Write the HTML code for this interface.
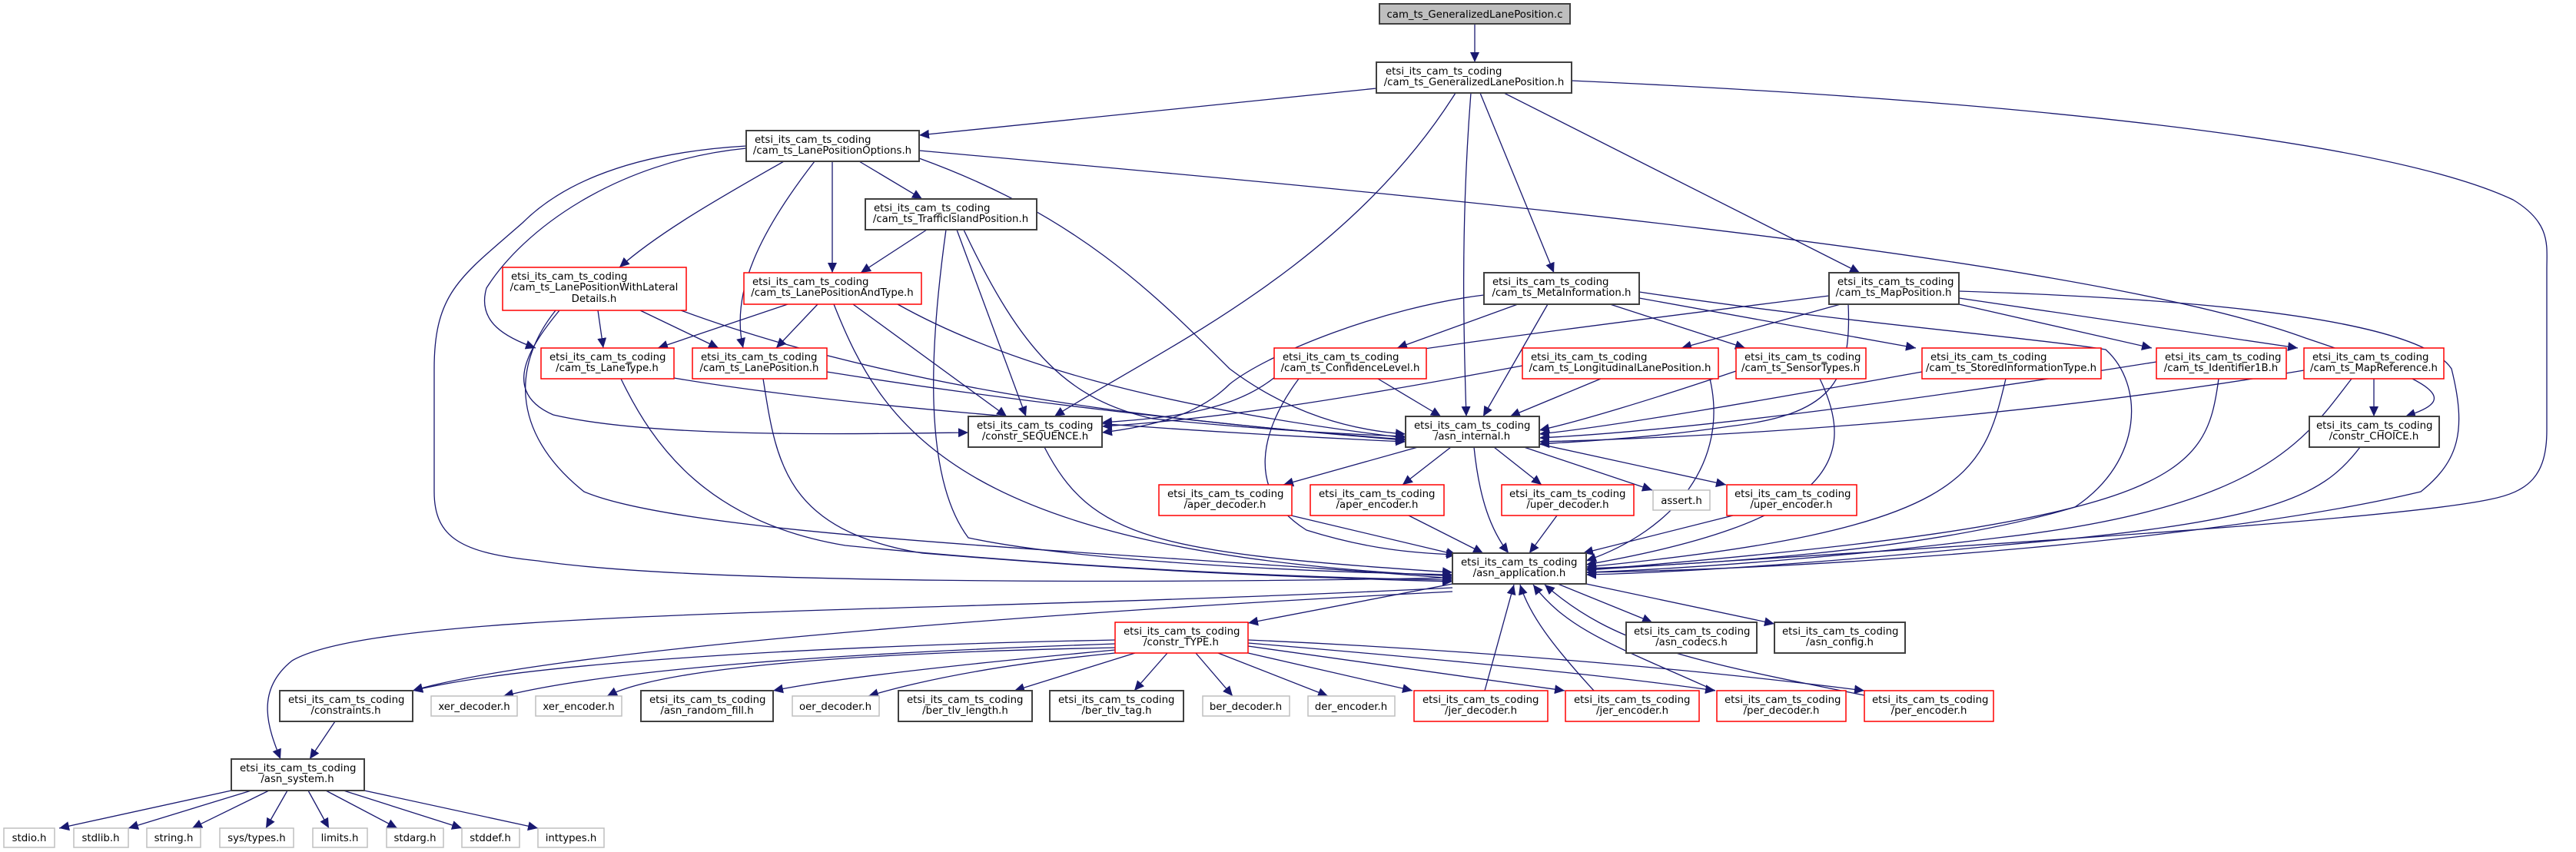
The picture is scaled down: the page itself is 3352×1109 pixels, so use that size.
<!DOCTYPE html>
<html><head><meta charset="utf-8"><style>
html,body{margin:0;padding:0;background:#fff;}
svg{display:block}
text{font-family:"DejaVu Sans","Liberation Sans",sans-serif;font-size:13.3px;fill:#000}
.e{fill:none;stroke:#191970;stroke-width:1.3}
.nb{fill:#fff;stroke:#404040;stroke-width:2}
.nr{fill:#fff;stroke:#ff0000;stroke-width:1.5}
.ng{fill:#fff;stroke:#bfbfbf;stroke-width:1.5}
</style></head><body>
<svg width="3352" height="1109" viewBox="0 0 3352 1109" xmlns="http://www.w3.org/2000/svg">
<defs><marker id="a" markerUnits="userSpaceOnUse" markerWidth="14" markerHeight="12" refX="13" refY="6" orient="auto"><path d="M0,0 L13,6 L0,12 z" fill="#191970"/></marker></defs>
<g class="e" marker-end="url(#a)">
<path d="M1919,31 L1919,81"/>
<path d="M1791,115 L1196,176"/>
<path d="M1894,121 C1750,350 1500,460 1372,542"/>
<path d="M1914,121 C1900,300 1905,450 1908,542"/>
<path d="M1926,121 L2022,355"/>
<path d="M1957,121 L2420,355"/>
<path d="M2045,105 C2600,130 3100,180 3270,260 C3320,290 3314,320 3314,350 L3314,560 C3314,620 3290,640 3240,650 C3100,680 2400,720 2064,742"/>
<path d="M1196,196 C1800,250 2700,330 3000,440 C3180,500 3200,520 3130,542"/>
<path d="M1118,210 L1200,259"/>
<path d="M1083,210 L1083,355"/>
<path d="M1020,210 C950,250 860,300 806,348"/>
<path d="M971,193 C800,210 680,300 633,375 C620,420 660,440 697,453"/>
<path d="M1060,210 C990,300 950,380 967,453"/>
<path d="M971,190 C800,200 720,250 680,290 C600,360 565,380 565,480 L565,640 C565,700 600,720 700,730 C900,760 1500,760 1890,752"/>
<path d="M1196,206 C1400,280 1500,380 1600,480 C1680,540 1760,560 1829,565"/>
<path d="M1206,299 L1120,355"/>
<path d="M1245,299 L1335,542"/>
<path d="M1254,299 C1330,460 1390,520 1500,545 C1650,560 1750,565 1829,568"/>
<path d="M1231,299 C1210,450 1200,620 1260,700 C1400,730 1700,745 1890,748"/>
<path d="M1025,396 L856,453"/>
<path d="M1064,396 L1010,453"/>
<path d="M1110,396 L1310,542"/>
<path d="M1168,396 C1300,470 1500,530 1829,570"/>
<path d="M1085,396 C1150,560 1250,720 1890,750"/>
<path d="M778,404 L785,453"/>
<path d="M833,404 L935,453"/>
<path d="M886,404 C1200,520 1600,555 1829,572"/>
<path d="M728,404 C690,450 650,510 720,540 C850,570 1100,565 1260,563"/>
<path d="M723,404 C670,470 660,560 760,640 C900,700 1500,720 1890,753"/>
<path d="M877,492 C1100,530 1500,560 1829,575"/>
<path d="M808,493 C850,580 920,680 1100,710 C1400,740 1700,752 1890,755"/>
<path d="M1076,484 C1300,520 1600,555 1829,573"/>
<path d="M993,493 C1010,600 1020,690 1200,720 C1500,745 1700,752 1890,757"/>
<path d="M1359,582 C1420,700 1500,720 1890,745"/>
<path d="M1931,384 C1800,400 1650,460 1600,500 C1560,540 1500,555 1434,563"/>
<path d="M1975,396 L1818,453"/>
<path d="M2014,396 L1930,542"/>
<path d="M2095,396 L2271,453"/>
<path d="M2133,388 L2493,453"/>
<path d="M2133,380 C2400,420 2650,440 2740,455 C2790,500 2790,600 2700,660 C2500,720 2200,735 2064,740"/>
<path d="M2380,385 C2100,420 1700,470 1660,490 C1600,540 1500,545 1434,550"/>
<path d="M2395,396 L2188,453"/>
<path d="M2405,396 C2410,500 2380,540 2250,555 C2150,570 2050,575 2003,578"/>
<path d="M2549,396 L2800,453"/>
<path d="M2549,388 L2990,453"/>
<path d="M2549,379 C2900,390 3150,420 3190,480 C3210,560 3200,600 3150,640 C2900,700 2400,740 2064,745"/>
<path d="M1793,493 L1875,542"/>
<path d="M1690,493 C1640,560 1620,640 1700,690 C1780,715 1840,720 1895,722"/>
<path d="M2083,493 L1965,542"/>
<path d="M1981,476 C1800,510 1600,545 1434,555"/>
<path d="M2225,493 C2250,600 2180,690 2064,730"/>
<path d="M2259,483 C2150,520 2050,550 2003,560"/>
<path d="M2368,493 C2420,600 2380,680 2064,735"/>
<path d="M2501,484 C2300,520 2100,555 2003,565"/>
<path d="M2610,493 C2580,620 2560,690 2064,738"/>
<path d="M2806,471 C2500,520 2200,560 2003,570"/>
<path d="M2887,493 C2870,620 2840,680 2064,742"/>
<path d="M2998,482 C2600,550 2200,570 2003,575"/>
<path d="M3089,493 L3089,542"/>
<path d="M3060,493 C3000,570 2950,660 2600,700 C2400,725 2200,740 2064,745"/>
<path d="M3071,582 C3020,650 2950,680 2600,710 C2400,730 2200,745 2064,748"/>
<path d="M1845,582 L1670,631"/>
<path d="M1888,582 L1825,631"/>
<path d="M1944,582 L2006,631"/>
<path d="M1983,582 L2150,638"/>
<path d="M2003,578 L2246,631"/>
<path d="M1918,582 C1925,650 1940,690 1963,720"/>
<path d="M1680,671 L1895,722"/>
<path d="M1833,671 L1930,720"/>
<path d="M2026,671 L1990,720"/>
<path d="M2255,671 L2060,720"/>
<path d="M1890,760 L1624,811"/>
<path d="M2027,760 L2150,810"/>
<path d="M2064,760 L2309,812"/>
<path d="M1890,765 C1200,800 500,790 380,860 C330,900 350,950 365,988"/>
<path d="M1890,770 C1300,800 700,850 537,899"/>
<path d="M1451,833 C1100,840 700,860 537,899"/>
<path d="M1451,838 C1100,850 800,870 655,906"/>
<path d="M1451,843 C1100,850 860,870 790,906"/>
<path d="M1451,846 C1300,860 1100,880 1006,899"/>
<path d="M1451,850 C1300,865 1200,885 1130,906"/>
<path d="M1477,850 L1320,899"/>
<path d="M1519,850 L1476,899"/>
<path d="M1556,850 L1604,906"/>
<path d="M1585,850 L1728,906"/>
<path d="M1624,850 L1838,899"/>
<path d="M1624,841 L2036,899"/>
<path d="M1624,837 C1900,860 2100,880 2232,899"/>
<path d="M1624,833 C1900,845 2200,870 2426,899"/>
<path d="M1932,899 L1970,761"/>
<path d="M2074,899 C2020,840 1990,800 1978,761"/>
<path d="M2232,899 C2100,840 2040,820 1995,761"/>
<path d="M2426,905 C2200,860 2100,840 2010,761"/>
<path d="M436,939 L403,988"/>
<path d="M301,1029 L77,1078"/>
<path d="M327,1029 L167,1078"/>
<path d="M350,1029 L250,1078"/>
<path d="M374,1029 L346,1078"/>
<path d="M401,1029 L428,1078"/>
<path d="M424,1029 L517,1078"/>
<path d="M447,1029 L601,1078"/>
<path d="M474,1029 L700,1078"/>
</g>
<g>
<rect x="1795" y="5" width="248" height="26" fill="#bfbfbf" stroke="#404040" stroke-width="2"/><text x="1919" y="23" text-anchor="middle">cam_ts_GeneralizedLanePosition.c</text>
</g>
<g id="nodes">
<!-- two-line boxes: first line left at x+11, second centered -->
<rect class="nb" x="1791" y="81" width="254" height="40"/><text x="1803" y="97">etsi_its_cam_ts_coding</text><text x="1918" y="111" text-anchor="middle">/cam_ts_GeneralizedLanePosition.h</text>
<rect class="nb" x="971" y="170" width="225" height="40"/><text x="982" y="186">etsi_its_cam_ts_coding</text><text x="1083" y="200" text-anchor="middle">/cam_ts_LanePositionOptions.h</text>
<rect class="nb" x="1126" y="259" width="223" height="40"/><text x="1137" y="275">etsi_its_cam_ts_coding</text><text x="1237" y="289" text-anchor="middle">/cam_ts_TrafficIslandPosition.h</text>
<rect class="nr" x="968" y="355" width="231" height="41"/><text x="979" y="371">etsi_its_cam_ts_coding</text><text x="1083" y="385" text-anchor="middle">/cam_ts_LanePositionAndType.h</text>
<rect class="nr" x="654" y="348" width="239" height="56"/><text x="665" y="364">etsi_its_cam_ts_coding</text><text x="773" y="378" text-anchor="middle">/cam_ts_LanePositionWithLateral</text><text x="773" y="393" text-anchor="middle">Details.h</text>
<rect class="nr" x="704" y="453" width="173" height="40"/><text x="715" y="469">etsi_its_cam_ts_coding</text><text x="790" y="483" text-anchor="middle">/cam_ts_LaneType.h</text>
<rect class="nr" x="901" y="453" width="175" height="40"/><text x="912" y="469">etsi_its_cam_ts_coding</text><text x="988" y="483" text-anchor="middle">/cam_ts_LanePosition.h</text>
<rect class="nb" x="1931" y="355" width="202" height="41"/><text x="1942" y="371">etsi_its_cam_ts_coding</text><text x="2032" y="385" text-anchor="middle">/cam_ts_MetaInformation.h</text>
<rect class="nb" x="2380" y="355" width="169" height="41"/><text x="2391" y="371">etsi_its_cam_ts_coding</text><text x="2464" y="385" text-anchor="middle">/cam_ts_MapPosition.h</text>
<rect class="nr" x="1658" y="453" width="198" height="40"/><text x="1669" y="469">etsi_its_cam_ts_coding</text><text x="1757" y="483" text-anchor="middle">/cam_ts_ConfidenceLevel.h</text>
<rect class="nr" x="1981" y="453" width="255" height="40"/><text x="1992" y="469">etsi_its_cam_ts_coding</text><text x="2108" y="483" text-anchor="middle">/cam_ts_LongitudinalLanePosition.h</text>
<rect class="nr" x="2259" y="453" width="169" height="40"/><text x="2270" y="469">etsi_its_cam_ts_coding</text><text x="2343" y="483" text-anchor="middle">/cam_ts_SensorTypes.h</text>
<rect class="nr" x="2501" y="453" width="233" height="40"/><text x="2512" y="469">etsi_its_cam_ts_coding</text><text x="2617" y="483" text-anchor="middle">/cam_ts_StoredInformationType.h</text>
<rect class="nr" x="2806" y="453" width="169" height="40"/><text x="2817" y="469">etsi_its_cam_ts_coding</text><text x="2890" y="483" text-anchor="middle">/cam_ts_Identifier1B.h</text>
<rect class="nr" x="2998" y="453" width="182" height="40"/><text x="3009" y="469">etsi_its_cam_ts_coding</text><text x="3089" y="483" text-anchor="middle">/cam_ts_MapReference.h</text>
<rect class="nb" x="1260" y="542" width="174" height="40"/><text x="1271" y="558">etsi_its_cam_ts_coding</text><text x="1347" y="572" text-anchor="middle">/constr_SEQUENCE.h</text>
<rect class="nb" x="1829" y="542" width="174" height="40"/><text x="1840" y="558">etsi_its_cam_ts_coding</text><text x="1916" y="572" text-anchor="middle">/asn_internal.h</text>
<rect class="nb" x="3005" y="542" width="169" height="40"/><text x="3014" y="558">etsi_its_cam_ts_coding</text><text x="3089" y="572" text-anchor="middle">/constr_CHOICE.h</text>
<rect class="nr" x="1508" y="631" width="173" height="40"/><text x="1519" y="647">etsi_its_cam_ts_coding</text><text x="1594" y="661" text-anchor="middle">/aper_decoder.h</text>
<rect class="nr" x="1705" y="631" width="174" height="40"/><text x="1716" y="647">etsi_its_cam_ts_coding</text><text x="1792" y="661" text-anchor="middle">/aper_encoder.h</text>
<rect class="nr" x="1954" y="631" width="172" height="40"/><text x="1964" y="647">etsi_its_cam_ts_coding</text><text x="2040" y="661" text-anchor="middle">/uper_decoder.h</text>
<rect class="ng" x="2151" y="638" width="74" height="26"/><text x="2188" y="656" text-anchor="middle">assert.h</text>
<rect class="nr" x="2247" y="631" width="169" height="40"/><text x="2257" y="647">etsi_its_cam_ts_coding</text><text x="2331" y="661" text-anchor="middle">/uper_encoder.h</text>
<rect class="nb" x="1890" y="720" width="174" height="40"/><text x="1901" y="736">etsi_its_cam_ts_coding</text><text x="1977" y="750" text-anchor="middle">/asn_application.h</text>
<rect class="nr" x="1451" y="810" width="173" height="40"/><text x="1462" y="826">etsi_its_cam_ts_coding</text><text x="1537" y="840" text-anchor="middle">/constr_TYPE.h</text>
<rect class="nb" x="2116" y="810" width="170" height="40"/><text x="2126" y="826">etsi_its_cam_ts_coding</text><text x="2201" y="840" text-anchor="middle">/asn_codecs.h</text>
<rect class="nb" x="2309" y="810" width="170" height="40"/><text x="2319" y="826">etsi_its_cam_ts_coding</text><text x="2394" y="840" text-anchor="middle">/asn_config.h</text>
<rect class="nb" x="364" y="899" width="173" height="40"/><text x="375" y="915">etsi_its_cam_ts_coding</text><text x="450" y="929" text-anchor="middle">/constraints.h</text>
<rect class="ng" x="561" y="906" width="112" height="26"/><text x="617" y="924" text-anchor="middle">xer_decoder.h</text>
<rect class="ng" x="697" y="906" width="112" height="26"/><text x="753" y="924" text-anchor="middle">xer_encoder.h</text>
<rect class="nb" x="834" y="899" width="172" height="40"/><text x="845" y="915">etsi_its_cam_ts_coding</text><text x="920" y="929" text-anchor="middle">/asn_random_fill.h</text>
<rect class="ng" x="1031" y="906" width="113" height="26"/><text x="1087" y="924" text-anchor="middle">oer_decoder.h</text>
<rect class="nb" x="1169" y="899" width="174" height="40"/><text x="1180" y="915">etsi_its_cam_ts_coding</text><text x="1256" y="929" text-anchor="middle">/ber_tlv_length.h</text>
<rect class="nb" x="1366" y="899" width="174" height="40"/><text x="1377" y="915">etsi_its_cam_ts_coding</text><text x="1453" y="929" text-anchor="middle">/ber_tlv_tag.h</text>
<rect class="ng" x="1565" y="906" width="113" height="26"/><text x="1621" y="924" text-anchor="middle">ber_decoder.h</text>
<rect class="ng" x="1702" y="906" width="113" height="26"/><text x="1758" y="924" text-anchor="middle">der_encoder.h</text>
<rect class="nr" x="1840" y="899" width="174" height="40"/><text x="1851" y="915">etsi_its_cam_ts_coding</text><text x="1927" y="929" text-anchor="middle">/jer_decoder.h</text>
<rect class="nr" x="2037" y="899" width="174" height="40"/><text x="2048" y="915">etsi_its_cam_ts_coding</text><text x="2124" y="929" text-anchor="middle">/jer_encoder.h</text>
<rect class="nr" x="2234" y="899" width="168" height="40"/><text x="2244" y="915">etsi_its_cam_ts_coding</text><text x="2318" y="929" text-anchor="middle">/per_decoder.h</text>
<rect class="nr" x="2426" y="899" width="168" height="40"/><text x="2436" y="915">etsi_its_cam_ts_coding</text><text x="2510" y="929" text-anchor="middle">/per_encoder.h</text>
<rect class="nb" x="301" y="988" width="173" height="41"/><text x="312" y="1004">etsi_its_cam_ts_coding</text><text x="387" y="1018" text-anchor="middle">/asn_system.h</text>
<rect class="ng" x="5" y="1078" width="66" height="25"/><text x="38" y="1095" text-anchor="middle">stdio.h</text>
<rect class="ng" x="96" y="1078" width="71" height="25"/><text x="131" y="1095" text-anchor="middle">stdlib.h</text>
<rect class="ng" x="191" y="1078" width="70" height="25"/><text x="226" y="1095" text-anchor="middle">string.h</text>
<rect class="ng" x="286" y="1078" width="96" height="25"/><text x="334" y="1095" text-anchor="middle">sys/types.h</text>
<rect class="ng" x="407" y="1078" width="71" height="25"/><text x="442" y="1095" text-anchor="middle">limits.h</text>
<rect class="ng" x="503" y="1078" width="74" height="25"/><text x="540" y="1095" text-anchor="middle">stdarg.h</text>
<rect class="ng" x="601" y="1078" width="75" height="25"/><text x="638" y="1095" text-anchor="middle">stddef.h</text>
<rect class="ng" x="700" y="1078" width="86" height="25"/><text x="743" y="1095" text-anchor="middle">inttypes.h</text>
</g>
</svg>
</body></html>
